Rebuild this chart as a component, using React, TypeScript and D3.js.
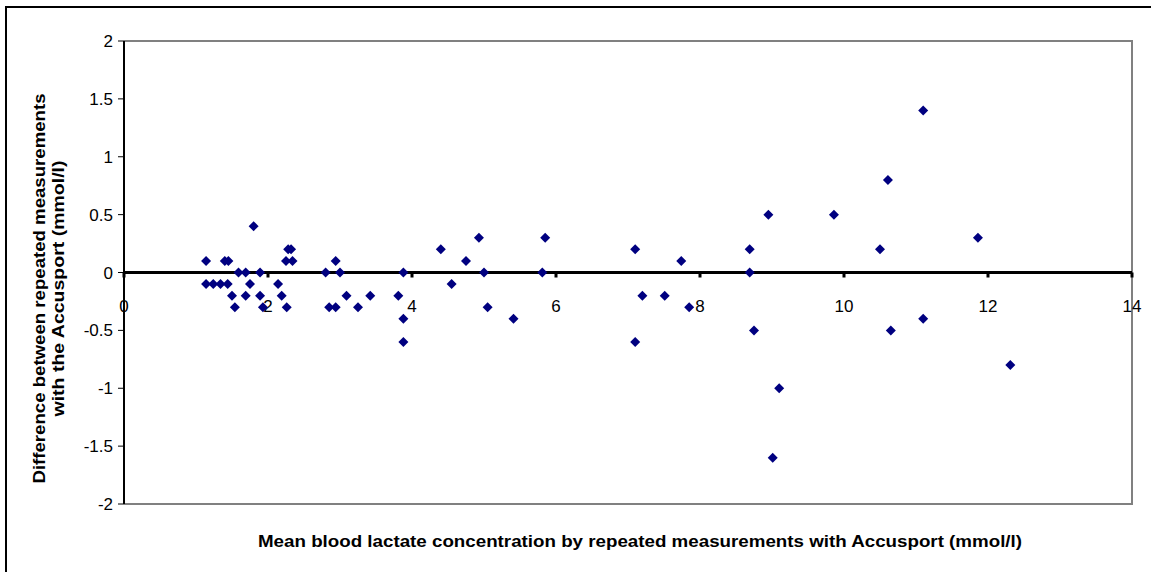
import React from "react";
import { scaleLinear, range } from "d3";

// mean of the two Accusport readings (mmol/l)
const meanLactate = [
  1.14, 1.14, 1.24, 1.34, 1.4, 1.45, 1.44, 1.5, 1.54, 1.59, 1.69, 1.69, 1.75,
  1.8, 1.89, 1.89, 1.93, 2.14, 2.19, 2.26, 2.25, 2.28, 2.32, 2.34, 2.8, 2.85,
  2.94, 2.94, 3.0, 3.09, 3.25, 3.42, 3.81, 3.88, 3.88, 3.88, 4.4, 4.55, 4.75,
  4.93, 5.0, 5.05, 5.41, 5.81, 5.85, 7.1, 7.1, 7.2, 7.51, 7.74, 7.85, 8.69,
  8.69, 8.75, 8.95, 9.1, 9.01, 9.86, 10.5, 10.61, 10.65, 11.1, 11.1, 11.86,
  12.31,
];
// difference between the two readings (mmol/l)
const difference = [
  0.1, -0.1, -0.1, -0.1, 0.1, 0.1, -0.1, -0.2, -0.3, 0, 0, -0.2, -0.1, 0.4, 0,
  -0.2, -0.3, -0.1, -0.2, -0.3, 0.1, 0.2, 0.2, 0.1, 0, -0.3, -0.3, 0.1, 0, -0.2,
  -0.3, -0.2, -0.2, 0, -0.4, -0.6, 0.2, -0.1, 0.1, 0.3, 0, -0.3, -0.4, 0, 0.3,
  0.2, -0.6, -0.2, -0.2, 0.1, -0.3, 0.2, 0, -0.5, 0.5, -1.0, -1.6, 0.5, 0.2,
  0.8, -0.5, 1.4, -0.4, 0.3, -0.8,
];

const xTicks = [0, 2, 4, 6, 8, 10, 12, 14];
const yTicks = [2, 1.5, 1, 0.5, 0, -0.5, -1, -1.5, -2];

const W = 1151;
const H = 572;
const left = 124;
const right = 1132;
const top = 41;
const bottom = 504;

function App() {
  const x = scaleLinear().domain([0, 14]).range([left, right]);
  const y = scaleLinear().domain([-2, 2]).range([bottom, top]);
  const font = "Arial, 'Liberation Sans', sans-serif";
  const diamond = "M0,-5L5,0L0,5L-5,0Z";

  return (
    <svg
      width={W}
      height={H}
      style={{ position: "absolute", left: 0, top: 0, background: "#fff" }}
    >
      {/* outer chart frame, cut off at the right and bottom */}
      <rect x={6} y={7} width={1200} height={700} fill="#fff" stroke="#000" strokeWidth={2} />

      {/* plot area border */}
      <path
        d={`M${left},${top}H${right}V${bottom}H${left}`}
        fill="none"
        stroke="#808080"
        strokeWidth={2}
      />

      {/* y axis */}
      <line x1={left} x2={left} y1={top} y2={bottom} stroke="#000" strokeWidth={2} />
      {yTicks.map((t) => (
        <g key={t}>
          <line x1={left - 6} x2={left} y1={y(t)} y2={y(t)} stroke="#000" strokeWidth={1} />
          <text
            x={left - 11}
            y={y(t)}
            dy="0.36em"
            textAnchor="end"
            fontFamily={font}
            fontSize={17}
            fill="#000"
          >
            {t}
          </text>
        </g>
      ))}

      {/* x axis at zero */}
      <line x1={left} x2={right} y1={y(0)} y2={y(0)} stroke="#000" strokeWidth={3} />
      {xTicks.map((t) => (
        <g key={t}>
          <rect x={x(t) - 1.5} y={y(0)} width={3} height={5} fill="#000" />
          <text
            x={x(t)}
            y={y(0) + 39}
            textAnchor="middle"
            fontFamily={font}
            fontSize={17}
            fill="#000"
          >
            {t}
          </text>
        </g>
      ))}

      {/* points */}
      {range(meanLactate.length).map((i) => (
        <path
          key={i}
          d={diamond}
          transform={`translate(${x(meanLactate[i])},${y(difference[i])})`}
          fill="#000080"
        />
      ))}

      {/* axis titles */}
      <g transform={`translate(45,${(top + bottom) / 2 + 16}) rotate(-90)`}>
        <text
          x={0}
          y={0}
          textAnchor="middle"
          fontFamily={font}
          fontSize={17}
          fontWeight="bold"
          fill="#000"
          textLength={390}
          lengthAdjust="spacingAndGlyphs"
        >
          Difference between repeated measurements
        </text>
        <text
          x={0}
          y={19}
          textAnchor="middle"
          fontFamily={font}
          fontSize={17}
          fontWeight="bold"
          fill="#000"
          textLength={256}
          lengthAdjust="spacingAndGlyphs"
        >
          with the Accusport (mmol/l)
        </text>
      </g>
      <text
        x={640}
        y={547}
        textAnchor="middle"
        fontFamily={font}
        fontSize={17}
        fontWeight="bold"
        fill="#000"
        textLength={764}
        lengthAdjust="spacingAndGlyphs"
      >
        Mean blood lactate concentration by repeated measurements with Accusport (mmol/l)
      </text>
    </svg>
  );
}

export default App;
